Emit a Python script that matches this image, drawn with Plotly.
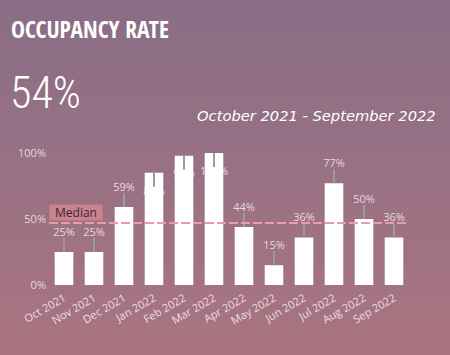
import plotly.graph_objects as go

months = ["Oct 2021", "Nov 2021", "Dec 2021", "Jan 2022", "Feb 2022", "Mar 2022",
          "Apr 2022", "May 2022", "Jun 2022", "Jul 2022", "Aug 2022", "Sep 2022"]
occupancy = [0.25, 0.25, 0.59, 0.85, 0.98, 1.00, 0.44, 0.15, 0.36, 0.77, 0.50, 0.36]
median_value = 0.47
headline = "54%"
title_text = "OCCUPANCY RATE"
period_text = "October 2021 - September 2022"
y_ticks = [0, 0.5, 1.0]
y_tick_labels = ["0%", "50%", "100%"]

W, H = 450, 355
top_rgb = (137, 110, 134)
bot_rgb = (170, 116, 128)
body_font = "Open Sans, sans-serif"

fig = go.Figure()

# data labels (drawn behind the bars)
label_pos = ["bottom center" if v > 0.8 else "top center" for v in occupancy]
fig.add_trace(go.Scatter(
    x=months, y=occupancy, mode="markers+text",
    text=[f"{round(v*100)}%" for v in occupancy],
    textposition=label_pos,
    marker=dict(size=20, color="rgba(0,0,0,0)"),
    textfont=dict(family=body_font, size=11, color="#e6d9e0"),
    hoverinfo="skip", showlegend=False, zorder=-1, cliponaxis=False,
))

fig.add_trace(go.Bar(
    x=months, y=occupancy, marker=dict(color="white", line=dict(width=0)),
    showlegend=False, zorder=0, hoverinfo="skip",
))

shapes = []
# background gradient
n = 60
for i in range(n):
    t = (i + 0.5) / n
    c = tuple(round(top_rgb[k] + (bot_rgb[k] - top_rgb[k]) * t) for k in range(3))
    shapes.append(dict(type="rect", xref="paper", yref="paper", x0=0, x1=1,
                       y0=1 - (i + 1) / n - 0.002, y1=1 - i / n + 0.002,
                       fillcolor=f"rgb{c}", line=dict(width=0), layer="below"))

# leader lines
for i, v in enumerate(occupancy):
    up = v <= 0.8
    shapes.append(dict(type="line", xref="x", yref="y", x0=i, x1=i,
                       ysizemode="pixel", yanchor=v, y0=0, y1=14 if up else -14,
                       line=dict(color="#9a9a9a", width=2), layer="above"))

# median line
shapes.append(dict(type="line", xref="x domain", yref="y", x0=0, x1=1,
                   y0=median_value, y1=median_value,
                   line=dict(color="#eb9ba5", width=2, dash="9px,3px"), layer="above"))

annotations = [
    dict(text=f"<b>{title_text}</b>", xref="paper", yref="paper", x=9 / W, y=1 - 29 / H,
         xanchor="left", yanchor="middle", showarrow=False,
         font=dict(family="Open Sans Condensed, Roboto Condensed, sans-serif", size=23.5, color="white")),
    dict(text=headline, xref="paper", yref="paper", x=8 / W, y=1 - 93 / H,
         xanchor="left", yanchor="middle", showarrow=False,
         font=dict(family="Roboto Condensed, sans-serif", size=44, color="white", weight=300)),
    dict(text=f"<i>{period_text}</i>", xref="paper", yref="paper", x=438 / W, y=1 - 115 / H,
         xanchor="right", yanchor="middle", showarrow=False,
         font=dict(family="DejaVu Sans, sans-serif", size=14.7, color="white")),
    dict(text="Median", xref="x domain", yref="y", x=0, y=median_value,
         xanchor="left", yanchor="bottom", yshift=2, showarrow=False,
         bgcolor="#c98290", borderpad=2, width=48, height=11, align="center",
         font=dict(family=body_font, size=12, color="#3a2830")),
]

fig.update_layout(
    width=W, height=H,
    margin=dict(l=0, r=0, t=0, b=0, autoexpand=False),
    paper_bgcolor="rgb(150,112,131)",
    plot_bgcolor="rgba(0,0,0,0)",
    bargap=0.38,
    shapes=shapes,
    annotations=annotations,
    hovermode=False,
    xaxis=dict(domain=[49 / W, 409 / W], type="category", range=[-0.5, len(months) - 0.5],
               showline=True, linecolor="white",
               linewidth=2.5, showgrid=False, ticks="", tickangle=-30, automargin=False,
               tickfont=dict(family=body_font, size=11, color="#ecdfe6"),
               fixedrange=True),
    yaxis=dict(domain=[1 - 285 / H, 1 - 153 / H], range=[0, 1.0], tickvals=y_ticks,
               ticktext=y_tick_labels, showgrid=False, zeroline=False, showline=False,
               automargin=False,
               tickfont=dict(family=body_font, size=11, color="#e3d6dd"),
               ticklabelstandoff=2, fixedrange=True),
)

fig.write_html("out.html", config={"displayModeBar": False},
               post_script="document.body.style.margin='0';")
